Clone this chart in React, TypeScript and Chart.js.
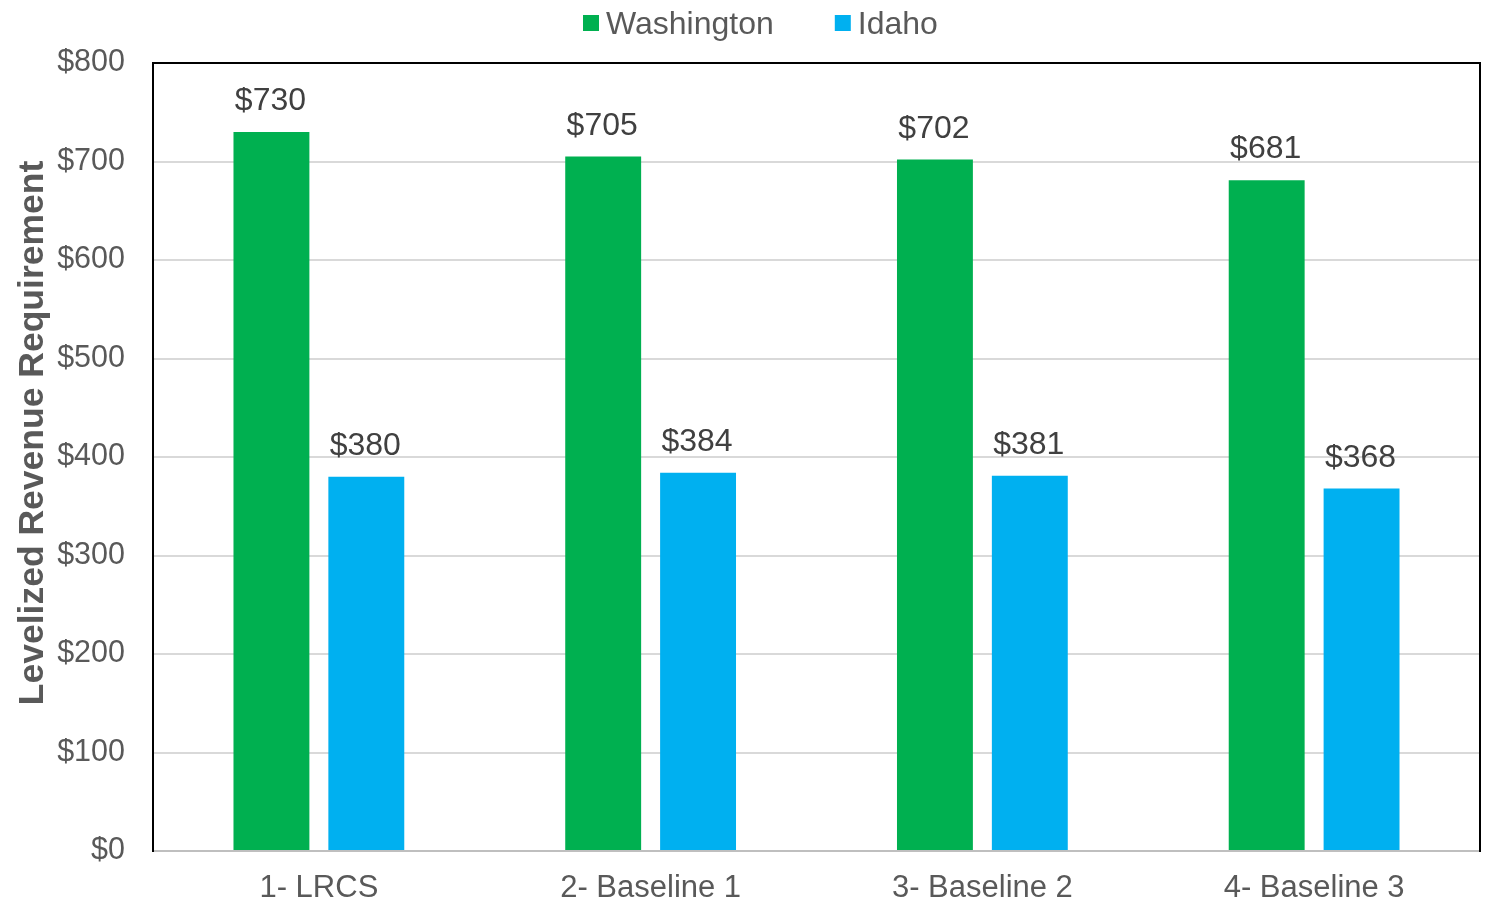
import { useEffect, useRef } from "react";
import { Chart, registerables } from "chart.js";

Chart.register(...registerables);

// Levelized revenue requirement by scenario and state
const categories = ["1- LRCS", "2- Baseline 1", "3- Baseline 2", "4- Baseline 3"];
const washington = [730, 705, 702, 681];
const idaho = [380, 384, 381, 368];
const seriesNames = ["Washington", "Idaho"];
const seriesColors = ["#00B050", "#00B0F0"];
const yAxisTitle = "Levelized Revenue Requirement";

const FONT = "'Liberation Sans', Arial, sans-serif";
const TEXT = "#595959";
const LABEL = "#404040";

const money = (v: number) => "$" + v;

// Black frame on three sides, grey category axis along the bottom
const framePlugin = {
  id: "frame",
  afterDatasetsDraw(chart: any) {
    const { ctx, chartArea: a } = chart;
    ctx.save();
    ctx.lineWidth = 2;
    ctx.strokeStyle = "#BFBFBF";
    ctx.beginPath();
    ctx.moveTo(a.left, a.bottom);
    ctx.lineTo(a.right, a.bottom);
    ctx.stroke();
    ctx.strokeStyle = "#000000";
    ctx.beginPath();
    ctx.moveTo(a.left, a.bottom + 1);
    ctx.lineTo(a.left, a.top);
    ctx.lineTo(a.right, a.top);
    ctx.lineTo(a.right, a.bottom + 1);
    ctx.stroke();
    ctx.restore();
  },
};

// Value labels above each bar
const valueLabelPlugin = {
  id: "valueLabels",
  afterDatasetsDraw(chart: any) {
    const { ctx } = chart;
    ctx.save();
    ctx.font = `32px ${FONT}`;
    ctx.fillStyle = LABEL;
    ctx.textAlign = "center";
    ctx.textBaseline = "alphabetic";
    chart.data.datasets.forEach((ds: any, i: number) => {
      const meta = chart.getDatasetMeta(i);
      meta.data.forEach((el: any, j: number) => {
        ctx.fillText(money(ds.data[j]), el.x - 1, el.y - 22);
      });
    });
    ctx.restore();
  },
};

// Rotated y-axis title
const yTitlePlugin = {
  id: "yTitle",
  afterDraw(chart: any) {
    const { ctx } = chart;
    ctx.save();
    ctx.translate(43, 433);
    ctx.rotate(-Math.PI / 2);
    ctx.font = `bold 35.5px ${FONT}`;
    ctx.fillStyle = TEXT;
    ctx.textAlign = "center";
    ctx.textBaseline = "alphabetic";
    ctx.fillText(yAxisTitle, 0, 0);
    ctx.restore();
  },
};

// Legend row at the top with square swatches
const legendPlugin = {
  id: "topLegend",
  afterDraw(chart: any) {
    const { ctx } = chart;
    ctx.save();
    ctx.font = `32px ${FONT}`;
    ctx.textBaseline = "alphabetic";
    ctx.textAlign = "left";
    let x = 583;
    chart.data.datasets.forEach((ds: any) => {
      ctx.fillStyle = ds.backgroundColor;
      ctx.fillRect(x, 15, 16, 16);
      ctx.fillStyle = TEXT;
      ctx.fillText(ds.label, x + 23, 34);
      x += 23 + ctx.measureText(ds.label).width + 61;
    });
    ctx.restore();
  },
};

export default function App() {
  const canvasRef = useRef<HTMLCanvasElement | null>(null);

  useEffect(() => {
    const canvas = canvasRef.current;
    if (!canvas) return;
    const chart = new Chart(canvas, {
      type: "bar",
      data: {
        labels: categories,
        datasets: [
          { label: seriesNames[0], data: washington, backgroundColor: seriesColors[0] },
          { label: seriesNames[1], data: idaho, backgroundColor: seriesColors[1] },
        ],
      },
      options: {
        responsive: false,
        animation: false,
        devicePixelRatio: 1,
        layout: { padding: { top: 63, right: 6, left: 0, bottom: 0 } },
        datasets: {
          bar: { barPercentage: 0.8, categoryPercentage: 0.572 },
        },
        plugins: {
          legend: { display: false },
          tooltip: { enabled: false },
          title: { display: false },
        },
        scales: {
          x: {
            grid: { display: false, drawTicks: false },
            border: { display: false },
            ticks: {
              color: TEXT,
              font: { family: FONT, size: 31 },
              padding: 19,
            },
            afterFit: (s: any) => {
              s.height = 57;
            },
          },
          y: {
            min: 0,
            max: 800,
            grid: { color: "#D9D9D9", lineWidth: 2, drawTicks: false },
            border: { display: false },
            ticks: {
              stepSize: 100,
              color: TEXT,
              font: { family: FONT, size: 30.5 },
              padding: 28,
              callback: (v: any) => money(Number(v)),
            },
            afterFit: (s: any) => {
              s.width = 153;
            },
          },
        },
      },
      plugins: [framePlugin, valueLabelPlugin, yTitlePlugin, legendPlugin],
    });
    return () => chart.destroy();
  }, []);

  return (
    <div style={{ position: "fixed", left: 0, top: 0, width: 1486, height: 908, background: "#fff" }}>
      <canvas ref={canvasRef} width={1486} height={908} style={{ display: "block" }} />
    </div>
  );
}
